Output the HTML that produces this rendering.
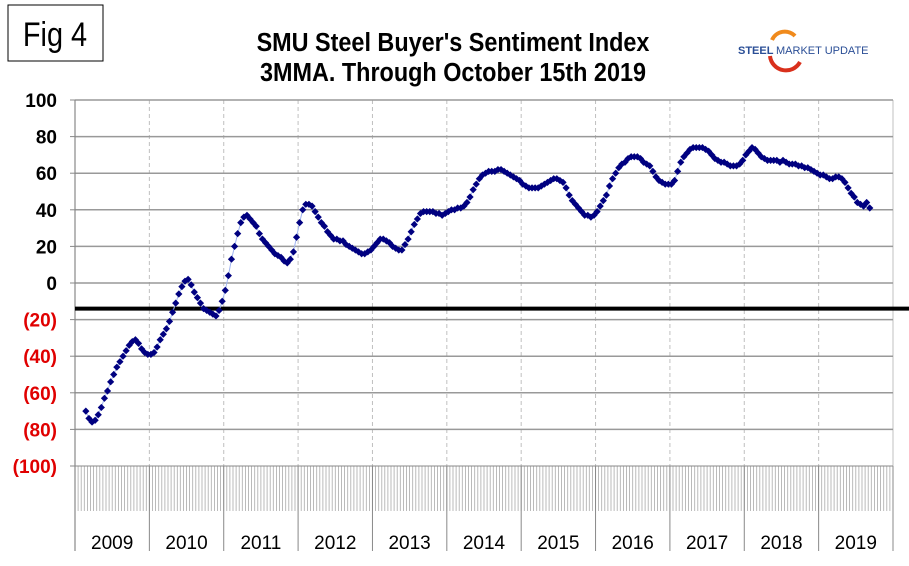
<!DOCTYPE html>
<html><head><meta charset="utf-8"><style>
body{margin:0;background:#fff;}
svg text{font-family:"Liberation Sans",Arial,sans-serif;}
</style></head><body>
<svg id="chart" width="909" height="561" viewBox="0 0 909 561" xmlns="http://www.w3.org/2000/svg">
<rect x="0" y="0" width="909" height="561" fill="#fff"/>
<g>
<rect x="8" y="5" width="95" height="56" fill="#fff" stroke="#000" stroke-width="1"/>
<text x="55" y="46" font-size="34" text-anchor="middle" transform="translate(55,0) scale(0.85,1) translate(-55,0)">Fig 4</text>
</g>
<text x="453" y="51" font-size="26" font-weight="bold" text-anchor="middle" transform="translate(453,0) scale(0.9,1) translate(-453,0)">SMU Steel Buyer's Sentiment Index</text>
<text x="453" y="81" font-size="26" font-weight="bold" text-anchor="middle" transform="translate(453,0) scale(0.9,1) translate(-453,0)">3MMA. Through October 15th 2019</text>
<g>
<path d="M772 40 A14 14 0 0 1 795 36" fill="none" stroke="#f08a1c" stroke-width="4"/>
<path d="M770 56 A16 16 0 0 0 800 62" fill="none" stroke="#d9301c" stroke-width="4"/>
<text x="738" y="54" font-size="11" font-weight="bold" fill="#2a4e96">STEEL</text>
<text x="776" y="54" font-size="11" fill="#2a4e96">MARKET UPDATE</text>
</g>
<g id="grid"></g>
<g id="axes"></g>
<g id="series"></g>
</svg>
<script>
const yTicks=[100,80,60,40,20,0,-20,-40,-60,-80,-100];
const yTickLabels=["100","80","60","40","20","0","(20)","(40)","(60)","(80)","(100)"];
const years=["2009","2010","2011","2012","2013","2014","2015","2016","2017","2018","2019"];
const startIndex=3;
const refLine=-14;
const values=[-70,-74,-76,-75,-72,-68,-63,-59,-54,-50,-46,-43,-40,-37,-34,-32,-31,-33,-36,-38,-39,-39,-38,-35,-31,-28,-25,-21,-16,-11,-6,-2,1,2,-1,-5,-8,-11,-14,-15,-16,-17,-18,-15,-10,-4,4,13,20,27,33,36,37,35,33,31,27,24,22,20,18,16,15,14,12,11,13,17,25,33,40,43,43,42,39,36,33,31,28,26,24,24,23,23,21,20,19,18,17,16,16,17,18,20,22,24,24,23,22,20,19,18,18,21,24,28,32,35,38,39,39,39,39,38,38,37,38,39,40,40,41,41,42,44,47,51,54,57,59,60,61,61,61,62,62,61,60,59,58,57,56,54,53,52,52,52,52,53,54,55,56,57,57,56,55,52,48,45,43,41,39,37,37,36,37,39,42,45,48,53,57,60,63,65,66,68,69,69,69,68,66,65,64,61,58,56,55,54,54,54,56,61,66,69,71,73,74,74,74,74,73,72,70,68,67,66,66,65,64,64,64,65,67,70,72,74,73,71,69,68,67,67,67,67,66,67,66,65,65,65,64,64,63,63,62,61,60,59,59,58,57,57,58,58,57,55,52,49,47,44,43,42,44,41];
const NS="http://www.w3.org/2000/svg";
const X0=75,X1=893,Y100=100,Y0=283,slotsPerYear=24;
const slots=years.length*slotsPerYear, slotW=(X1-X0)/slots, yearW=(X1-X0)/years.length;
function yScale(v){return Y0-(v/100)*(Y0-Y100);}
function xScale(i){return X0+(i+0.5)*slotW;}
function mk(tag,attrs,parent){const e=document.createElementNS(NS,tag);for(const k in attrs)e.setAttribute(k,attrs[k]);parent.appendChild(e);return e;}
const grid=document.getElementById('grid'),axes=document.getElementById('axes'),series=document.getElementById('series');
const yBot=yScale(-100);
for(let i=1;i<years.length;i++){
  const x=X0+i*yearW;
  const l=mk('line',{x1:x,x2:x,y1:Y100,y2:yBot,stroke:'#c0c0c0','stroke-width':1,'stroke-dasharray':'4,3'},grid);
  
  
}
mk('line',{x1:X1,x2:X1,y1:Y100,y2:yBot,stroke:'#c0c0c0','stroke-width':1},grid);
yTicks.forEach((v,i)=>{
  const y=yScale(v);
  if(v>-100){
    const g=mk('line',{x1:X0,x2:X1,y1:y,y2:y,stroke:'#999','stroke-width':1.5},grid);
    
    
  }
  mk('line',{x1:X0-5,x2:X0,y1:y,y2:y,stroke:'#888'},axes);
  const t=mk('text',{x:57,y:y+7,'font-size':19,'font-weight':'bold','text-anchor':'end',fill:v<0?'#e00000':'#000'},axes);
  t.textContent=yTickLabels[i];
  
  
});
let hatch='';
for(let i=0;i<=slots;i++){const x=X0+i*slotW;hatch+=`M${x.toFixed(1)} ${yBot}V511`;}
const h=mk('path',{d:hatch,stroke:'#aaa','stroke-width':0.8,fill:'none'},axes);


mk('line',{x1:X0,x2:X1,y1:yBot,y2:yBot,stroke:'#888','stroke-width':1},axes);
mk('line',{x1:X0,x2:X0,y1:Y100,y2:551,stroke:'#888','stroke-width':1.2},axes);
years.forEach((yr,i)=>{
  const x=X0+(i+1)*yearW;
  mk('line',{x1:x,x2:x,y1:yBot,y2:551,stroke:'#888','stroke-width':1},axes);
  const t=mk('text',{x:X0+(i+0.5)*yearW,y:549,'font-size':19,'text-anchor':'middle',fill:'#000'},axes);
  t.textContent=yr;
  
  
});
const ry=yScale(refLine);
const rl=mk('line',{x1:X0,x2:909,y1:ry,y2:ry,stroke:'#000','stroke-width':4},series);


const pts=values.map((v,k)=>[xScale(startIndex+k),yScale(v)]);
const pl=mk('polyline',{points:pts.map(p=>p[0].toFixed(1)+','+p[1].toFixed(1)).join(' '),fill:'none',stroke:'#9fb4f0','stroke-width':1},series);


pts.forEach(p=>{
  const d=mk('path',{d:`M${p[0]} ${p[1]-3.6}L${p[0]+3.6} ${p[1]}L${p[0]} ${p[1]+3.6}L${p[0]-3.6} ${p[1]}Z`,fill:'#000080'},series);
  
  
});
</script>
</body></html>
